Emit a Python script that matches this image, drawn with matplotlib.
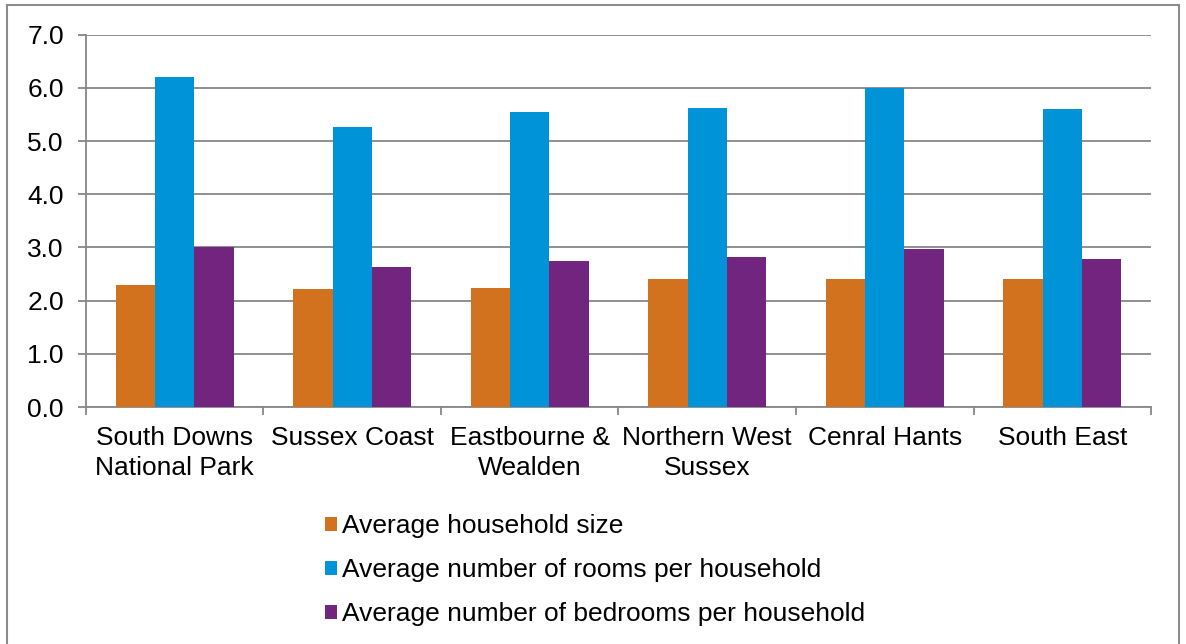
import numpy as np
import matplotlib.pyplot as plt
from matplotlib.patches import Rectangle

plt.rcParams['font.family'] = ['Liberation Sans', 'DejaVu Sans']

areas = ['South Downs\nNational Park', 'Sussex Coast', 'Eastbourne &\nWealden',
         'Northern West\nSussex', 'Cenral Hants', 'South East']
household_size = [2.3, 2.21, 2.24, 2.4, 2.4, 2.4]
rooms = [6.21, 5.26, 5.55, 5.63, 6.0, 5.6]
bedrooms = [3.0, 2.63, 2.75, 2.83, 2.97, 2.79]

series = [
    ('Average household size', household_size, '#D2711E'),
    ('Average number of rooms per household', rooms, '#0093D7'),
    ('Average number of bedrooms per household', bedrooms, '#72257E'),
]

fig = plt.figure(figsize=(11.86, 6.44), dpi=100)
ax = fig.add_axes([0.0725, 0.368, 0.898, 0.578])

x = np.arange(len(areas))
w = 0.222
for i, (name, vals, col) in enumerate(series):
    ax.bar(x + (i - 1) * w, vals, w, color=col, label=name, zorder=3)

grid_col = '#878787'
fs = 19
ax.set_ylim(0, 7)
ax.set_yticks(np.arange(0, 7.01, 1.0))
ax.set_yticklabels([f'{v:.1f}' for v in np.arange(0, 7.01, 1.0)], fontsize=fs)
ax.yaxis.grid(True, color=grid_col, linewidth=1.3, zorder=0)
ax.set_xlim(-0.5, len(areas) - 0.5)
ax.set_xticks(x)
ax.set_xticklabels(areas, fontsize=fs, linespacing=1.3)
ax.tick_params(axis='x', length=0, pad=14)
ax.set_xticks(np.arange(-0.5, len(areas), 1.0), minor=True)
ax.tick_params(axis='x', which='minor', length=6, width=1.3, color=grid_col)
ax.tick_params(axis='y', length=6, width=1.3, color=grid_col, pad=10)

for s in ['top', 'right']:
    ax.spines[s].set_visible(False)
for s in ['left', 'bottom']:
    ax.spines[s].set_color(grid_col)
    ax.spines[s].set_linewidth(1.3)

fig.legend(loc='upper left', bbox_to_anchor=(0.263, 0.222), frameon=False,
           fontsize=fs, handlelength=0.45, handleheight=0.45, handletextpad=0.2,
           labelspacing=0.76, borderpad=0)

# thin frame round the whole chart
fig.add_artist(Rectangle((0.006, -0.01), 0.988, 1.002, transform=fig.transFigure,
                         fill=False, edgecolor='#8c8c8c', linewidth=1.5))

fig.savefig('out.png', dpi=100)
